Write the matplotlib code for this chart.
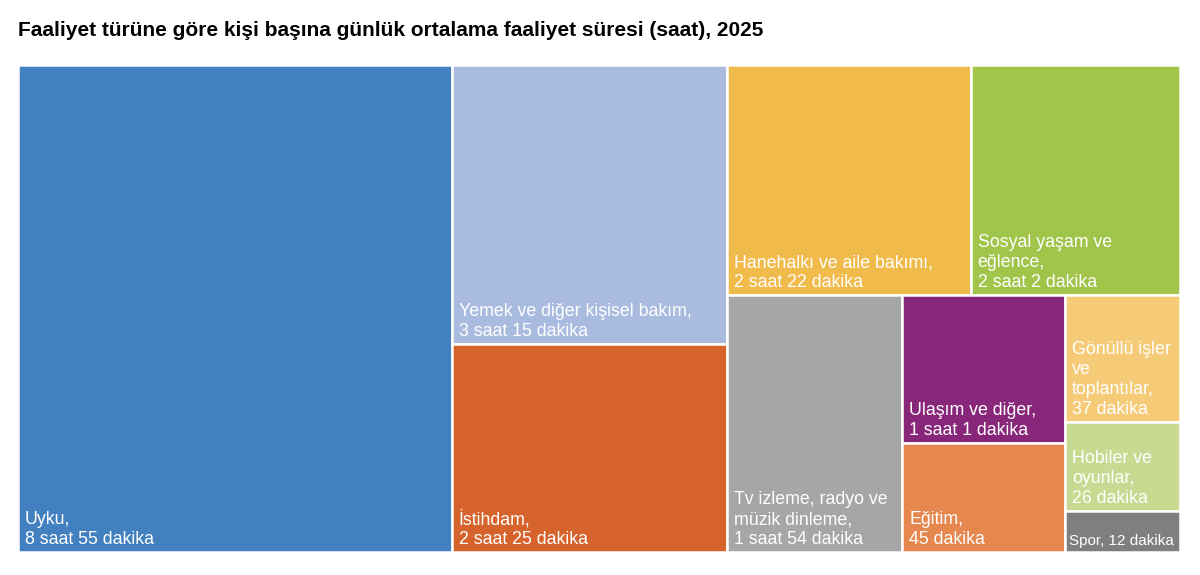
"""
Treemap: daily average time per person by activity type, 2025
"""

import matplotlib.pyplot as plt
from matplotlib.patches import Rectangle

plt.rcParams['font.family'] = ['Liberation Sans', 'DejaVu Sans']

TITLE = 'Faaliyet türüne göre kişi başına günlük ortalama faaliyet süresi (saat), 2025'

# Data (minutes per day)
labels = [
    'Uyku,\n8 saat 55 dakika',
    'Yemek ve diğer kişisel bakım,\n3 saat 15 dakika',
    'İstihdam,\n2 saat 25 dakika',
    'Hanehalkı ve aile bakımı,\n2 saat 22 dakika',
    'Sosyal yaşam ve\neğlence,\n2 saat 2 dakika',
    'Tv izleme, radyo ve\nmüzik dinleme,\n1 saat 54 dakika',
    'Ulaşım ve diğer,\n1 saat 1 dakika',
    'Eğitim,\n45 dakika',
    'Gönüllü işler\nve\ntoplantılar,\n37 dakika',
    'Hobiler ve\noyunlar,\n26 dakika',
    'Spor, 12 dakika',
]
minutes = [535, 195, 145, 142, 122, 114, 61, 45, 37, 26, 12]
colors = ['#4380BF', '#A9BBDF', '#D6632C', '#F0BB4A', '#A1C44A', '#A6A6A6',
          '#88277A', '#E5874F', '#F5CB78', '#C8DA91', '#7F7F7F']

# Plot area in pixels
W, H = 1162, 487


def worst(row, length):
    s = sum(row)
    return max(max(length * length * r / (s * s), s * s / (length * length * r)) for r in row)


def squarify(areas, x, y, w, h):
    """Squarified treemap layout, returns list of (x, y, w, h)"""
    rects = []
    areas = list(areas)
    while areas:
        length = min(w, h)
        row = [areas.pop(0)]
        while areas and worst(row + [areas[0]], length) <= worst(row, length):
            row.append(areas.pop(0))
        s = sum(row)
        if w >= h:
            cw = s / h
            cy = y
            for a in row:
                rects.append((x, cy, cw, a / cw))
                cy += a / cw
            x += cw
            w -= cw
        else:
            rh = s / w
            cx = x
            for a in row:
                rects.append((cx, y, a / rh, rh))
                cx += a / rh
            y += rh
            h -= rh
    return rects


total = sum(minutes)
areas = [m / total * W * H for m in minutes]
rects = squarify(areas, 0, 0, W, H)

fig = plt.figure(figsize=(12, 5.75), dpi=100)
fig.patch.set_facecolor('white')
ax = fig.add_axes([18 / 1200, 23 / 575, W / 1200, H / 575])
ax.set_xlim(0, W)
ax.set_ylim(H, 0)
ax.axis('off')

for (rx, ry, rw, rh), lab, col in zip(rects, labels, colors):
    ax.add_patch(Rectangle((rx, ry), rw, rh, facecolor=col, edgecolor='white', linewidth=1.8))
    small = lab.startswith('Spor')
    ax.text(rx + (4 if small else 7), ry + rh - 4, lab, color='white',
            fontsize=11 if small else 12.8, ha='left', va='bottom',
            linespacing=1.22)

fig.text(18 / 1200, 1 - 30 / 575, TITLE, fontsize=15, fontweight='bold',
         ha='left', va='center')

plt.savefig('out.png', dpi=100, facecolor='white')
